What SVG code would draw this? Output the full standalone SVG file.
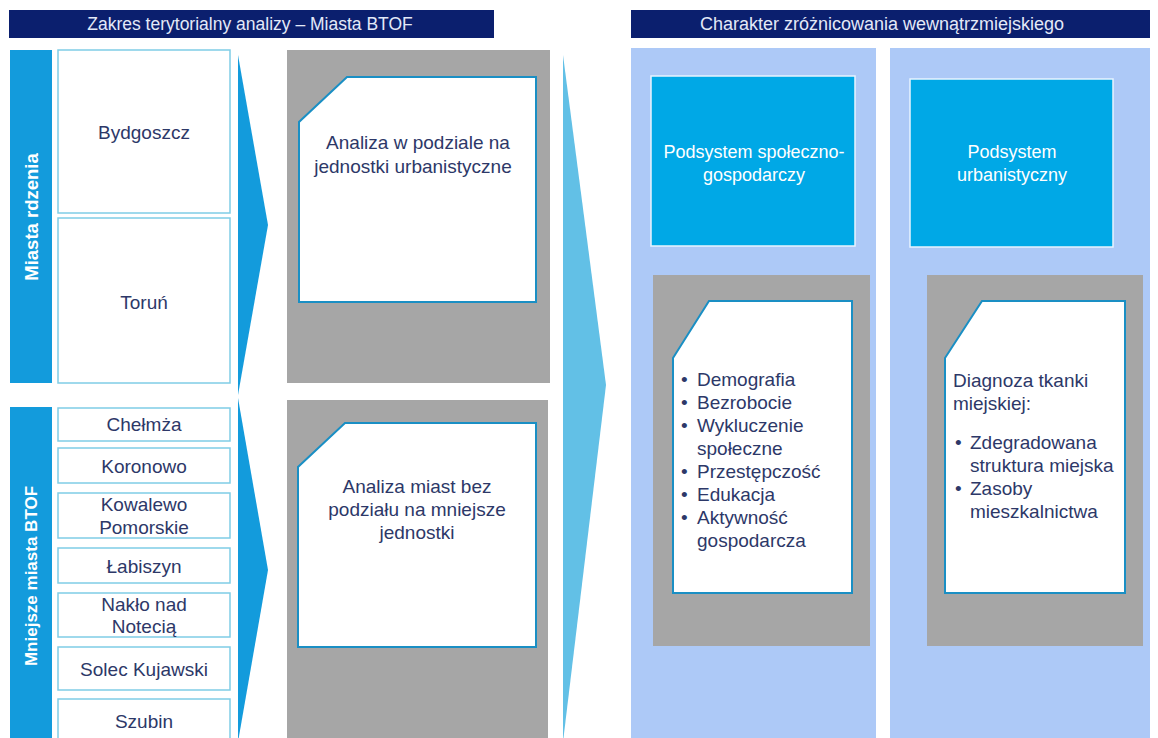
<svg xmlns="http://www.w3.org/2000/svg" width="1158" height="738" viewBox="0 0 1158 738">
<style>
.hdr{fill:#0b1f6e}
.hdrt{font-family:"Liberation Sans",Arial,sans-serif;font-size:17.5px;fill:#e3e9f8;text-anchor:middle}
.vbar{fill:#139bdc}
.vt{font-family:"Liberation Sans",Arial,sans-serif;font-size:18.5px;font-weight:bold;fill:#ffffff;text-anchor:middle}
.city{fill:#ffffff;stroke:#7fcde6;stroke-width:1.5}
.ct{font-family:"Liberation Sans",Arial,sans-serif;font-size:19px;fill:#2d3868;text-anchor:middle}
.gray{fill:#a6a6a6}
.card{fill:#ffffff;stroke:#1a8fc4;stroke-width:2}
.tx{font-family:"Liberation Sans",Arial,sans-serif;font-size:19px;fill:#2d3868}
.panel{fill:#adc9f7}
.sub{fill:#00a8e6;stroke:#e8f4ff;stroke-width:1.5}
.subt{font-family:"Liberation Sans",Arial,sans-serif;font-size:18px;fill:#ffffff;text-anchor:middle}
</style>
<rect width="1158" height="738" fill="#ffffff"/>

<g id="header-left">
<rect class="hdr" x="9" y="10" width="485" height="28"/>
<text class="hdrt" x="250" y="30">Zakres terytorialny analizy – Miasta BTOF</text>
</g>
<g id="header-right">
<rect class="hdr" x="631" y="10" width="519" height="28"/>
<text class="hdrt" x="882" y="30" style="font-size:18px">Charakter zróżnicowania wewnątrzmiejskiego</text>
</g>

<g id="bar-core">
<rect class="vbar" x="10" y="50" width="42" height="333"/>
<text class="vt" transform="translate(38,217) rotate(-90)">Miasta rdzenia</text>
</g>
<g id="bar-small">
<rect class="vbar" x="10" y="407" width="42" height="331"/>
<text class="vt" transform="translate(37,576) rotate(-90)" style="font-size:17px">Mniejsze miasta BTOF</text>
</g>

<g id="city-bydgoszcz"><rect class="city" x="58" y="50" width="172" height="163"/><text class="ct" x="144" y="139">Bydgoszcz</text></g>
<g id="city-torun"><rect class="city" x="58" y="218" width="172" height="165"/><text class="ct" x="144" y="309">Toruń</text></g>
<g id="city-chelmza"><rect class="city" x="58" y="408" width="172" height="33"/><text class="ct" x="144" y="431">Chełmża</text></g>
<g id="city-koronowo"><rect class="city" x="58" y="448" width="172" height="35"/><text class="ct" x="144" y="473">Koronowo</text></g>
<g id="city-kowalewo"><rect class="city" x="58" y="493" width="172" height="45"/><text class="ct" x="144" y="511">Kowalewo</text><text class="ct" x="144" y="534">Pomorskie</text></g>
<g id="city-labiszyn"><rect class="city" x="58" y="548" width="172" height="35"/><text class="ct" x="144" y="573">Łabiszyn</text></g>
<g id="city-naklo"><rect class="city" x="58" y="593" width="172" height="44"/><text class="ct" x="144" y="611">Nakło nad</text><text class="ct" x="144" y="633">Notecią</text></g>
<g id="city-solec"><rect class="city" x="58" y="647" width="172" height="43"/><text class="ct" x="144" y="676">Solec Kujawski</text></g>
<g id="city-szubin"><rect class="city" x="58" y="699" width="172" height="45"/><text class="ct" x="144" y="728">Szubin</text></g>

<g id="connectors">
<polygon points="238,55 268,225 238,395" fill="#139bdc"/>
<polygon points="238,398 268,570 238,742" fill="#139bdc"/>
<polygon points="563,55 606,385 563,742" fill="#62c0e6"/>
</g>

<g id="analysis-units">
<rect class="gray" x="287" y="50" width="263" height="333"/>
<path class="card" d="M347,77 H536 V302 H299 V122 Z"/>
<text class="tx" text-anchor="middle" x="418" y="149">Analiza w podziale na</text>
<text class="tx" text-anchor="middle" x="413" y="173">jednostki urbanistyczne</text>
</g>
<g id="analysis-cities">
<rect class="gray" x="287" y="400" width="261" height="345"/>
<path class="card" d="M345,423 H536 V647 H298 V467 Z"/>
<text class="tx" text-anchor="middle" x="417" y="493">Analiza miast bez</text>
<text class="tx" text-anchor="middle" x="417" y="516">podziału na mniejsze</text>
<text class="tx" text-anchor="middle" x="417" y="539">jednostki</text>
</g>

<g id="panel-social">
<rect class="panel" x="631" y="48" width="245" height="695"/>
<rect class="sub" x="651" y="76" width="204" height="170"/>
<text class="subt" x="754" y="158">Podsystem społeczno-</text>
<text class="subt" x="754" y="181">gospodarczy</text>
<rect class="gray" x="653" y="275" width="217" height="371"/>
<path class="card" d="M709,301 H852 V593 H673 V358 Z"/>
<g class="tx">
<text x="681" y="386">•</text><text x="697" y="386">Demografia</text>
<text x="681" y="409">•</text><text x="697" y="409">Bezrobocie</text>
<text x="681" y="432">•</text><text x="697" y="432">Wykluczenie</text>
<text x="697" y="455">społeczne</text>
<text x="681" y="478">•</text><text x="697" y="478">Przestępczość</text>
<text x="681" y="501">•</text><text x="697" y="501">Edukacja</text>
<text x="681" y="524">•</text><text x="697" y="524">Aktywność</text>
<text x="697" y="547">gospodarcza</text>
</g>
</g>

<g id="panel-urban">
<rect class="panel" x="890" y="48" width="260" height="695"/>
<rect class="sub" x="910" y="79" width="203" height="168"/>
<text class="subt" x="1012" y="158">Podsystem</text>
<text class="subt" x="1012" y="181">urbanistyczny</text>
<rect class="gray" x="927" y="275" width="216" height="371"/>
<path class="card" d="M982,301 H1125 V593 H945 V358 Z"/>
<g class="tx">
<text x="953" y="387">Diagnoza tkanki</text>
<text x="953" y="410">miejskiej:</text>
<text x="955" y="449">•</text><text x="970" y="449">Zdegradowana</text>
<text x="970" y="472">struktura miejska</text>
<text x="955" y="495">•</text><text x="970" y="495">Zasoby</text>
<text x="970" y="518">mieszkalnictwa</text>
</g>
</g>
</svg>
